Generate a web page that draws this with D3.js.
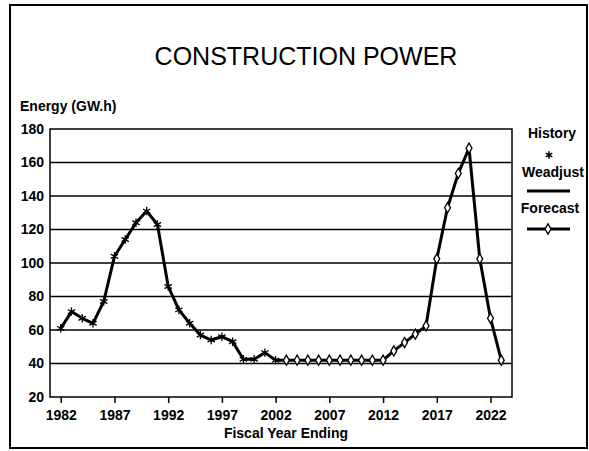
<!DOCTYPE html>
<html>
<head>
<meta charset="utf-8">
<script src="https://cdn.jsdelivr.net/npm/d3@7"></script>
<style>
  body { margin: 0; background: #fff; }
  svg { display: block; font-family: "Liberation Sans", Arial, sans-serif; }
</style>
</head>
<body>
<svg id="chart" width="589" height="451"></svg>
<script>
// values
const historyYears = d3.range(1982, 2003);
const historyValues = [61, 71, 67, 64, 77, 104, 114, 124, 131, 123, 86, 72, 64, 57, 54, 56, 53, 42.5, 42.5, 46.5, 42];
const forecastYears = d3.range(2002, 2024);
const forecastValues = [42, 42, 42, 42, 42, 42, 42, 42, 42, 42, 42, 47.5, 52.5, 57.5, 62.5, 102.5, 133, 153.5, 168.5, 102.5, 67, 42];
const xTickYears = [1982, 1987, 1992, 1997, 2002, 2007, 2012, 2017, 2022];
const yTickValues = [20, 40, 60, 80, 100, 120, 140, 160, 180];

const svg = d3.select("#chart");
const plot = { left: 50, right: 512, top: 129, bottom: 397 };

// outer frame
svg.append("rect")
    .attr("x", 10).attr("y", 5)
    .attr("width", 577).attr("height", 443)
    .attr("fill", "none")
    .attr("stroke", "#000")
    .attr("stroke-width", 2);

const x = d3.scaleLinear().domain([1981, 2024]).range([plot.left, plot.right]);
const y = d3.scaleLinear().domain([20, 180]).range([plot.bottom, plot.top]);

svg.append("text")
    .attr("x", 306).attr("y", 65)
    .attr("text-anchor", "middle")
    .attr("font-size", 25)
    .text("CONSTRUCTION POWER");

svg.append("text")
    .attr("x", 20).attr("y", 111)
    .attr("font-size", 14).attr("font-weight", "bold")
    .text("Energy (GW.h)");

// gridlines
svg.append("g")
    .selectAll("line")
    .data(yTickValues.slice(1, -1))
    .join("line")
    .attr("x1", plot.left).attr("x2", plot.right)
    .attr("y1", d => y(d)).attr("y2", d => y(d))
    .attr("stroke", "#000")
    .attr("stroke-width", 1.5);

// plot box
svg.append("rect")
    .attr("x", plot.left).attr("y", plot.top)
    .attr("width", plot.right - plot.left).attr("height", plot.bottom - plot.top)
    .attr("fill", "none")
    .attr("stroke", "#000")
    .attr("stroke-width", 1.5);

// y axis labels
const gy = svg.append("g").attr("transform", `translate(${plot.left},0)`)
    .call(d3.axisLeft(y).tickValues(yTickValues).tickSize(0).tickPadding(6));
gy.select(".domain").remove();
gy.selectAll("text")
    .attr("font-size", 14).attr("font-weight", "bold")
    .attr("font-family", "Liberation Sans, Arial, sans-serif")
    .attr("fill", "#000");

// x axis
const gx = svg.append("g").attr("transform", `translate(0,${plot.bottom})`)
    .call(d3.axisBottom(x).tickValues(xTickYears).tickFormat(d3.format("d")).tickSize(6).tickPadding(7));
gx.select(".domain").remove();
gx.selectAll("line").attr("stroke", "#000").attr("stroke-width", 1.5);
gx.selectAll("text")
    .attr("font-size", 14).attr("font-weight", "bold")
    .attr("font-family", "Liberation Sans, Arial, sans-serif")
    .attr("fill", "#000");

svg.append("text")
    .attr("x", 286).attr("y", 438)
    .attr("text-anchor", "middle")
    .attr("font-size", 14).attr("font-weight", "bold")
    .text("Fiscal Year Ending");

// series
const historyData = historyYears.map((yr, i) => ({ year: yr, value: historyValues[i] }));
const forecastData = forecastYears.map((yr, i) => ({ year: yr, value: forecastValues[i] }));

const line = d3.line().x(d => x(d.year)).y(d => y(d.value));

svg.append("path")
    .datum(forecastData)
    .attr("d", line)
    .attr("fill", "none")
    .attr("stroke", "#000")
    .attr("stroke-width", 3)
    .attr("stroke-linejoin", "round");

svg.append("path")
    .datum(historyData)
    .attr("d", line)
    .attr("fill", "none")
    .attr("stroke", "#000")
    .attr("stroke-width", 3)
    .attr("stroke-linejoin", "round");

const diamond = d3.symbol().type(d3.symbolDiamond).size(30);
const star = d3.symbol().type(d3.symbolAsterisk).size(50);

svg.append("g")
    .selectAll("path")
    .data(forecastData.slice(1))
    .join("path")
    .attr("transform", d => `translate(${x(d.year)},${y(d.value)})`)
    .attr("d", diamond)
    .attr("fill", "#fff")
    .attr("stroke", "#000")
    .attr("stroke-width", 1.3);

svg.append("g")
    .selectAll("path")
    .data(historyData)
    .join("path")
    .attr("transform", d => `translate(${x(d.year)},${y(d.value)})`)
    .attr("d", star)
    .attr("fill", "none")
    .attr("stroke", "#000")
    .attr("stroke-width", 1.3);

// legend
const legend = svg.append("g").attr("font-size", 14).attr("font-weight", "bold").attr("text-anchor", "middle");
legend.append("text").attr("x", 552).attr("y", 138).text("History");
legend.append("path")
    .attr("transform", "translate(549,155)")
    .attr("d", d3.symbol().type(d3.symbolAsterisk).size(40))
    .attr("stroke", "#000").attr("stroke-width", 1.5).attr("fill", "none");
legend.append("text").attr("x", 553).attr("y", 177).text("Weadjust");
legend.append("line")
    .attr("x1", 527).attr("x2", 570).attr("y1", 191).attr("y2", 191)
    .attr("stroke", "#000").attr("stroke-width", 3);
legend.append("text").attr("x", 550).attr("y", 213).text("Forecast");
legend.append("line")
    .attr("x1", 527).attr("x2", 570).attr("y1", 229).attr("y2", 229)
    .attr("stroke", "#000").attr("stroke-width", 3);
legend.append("path")
    .attr("transform", "translate(548,229)")
    .attr("d", diamond)
    .attr("fill", "#fff").attr("stroke", "#000").attr("stroke-width", 1.3);
</script>
</body>
</html>
